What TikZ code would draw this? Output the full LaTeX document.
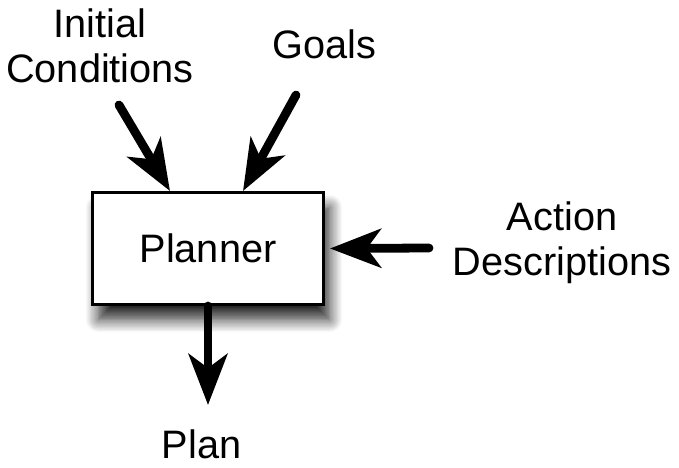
\documentclass[tikz,border=0pt]{standalone}
\usepackage{fontspec}
\setmainfont{Liberation Sans}
\usetikzlibrary{arrows.meta,shadows.blur}

\begin{document}
\begin{tikzpicture}[x=0.02cm, y=-0.02cm,
    every node/.style={font=\fontsize{22.6pt}{25.5pt}\selectfont},
    label/.style={align=center, anchor=base, inner sep=0pt},
    flow/.style={line width=5pt, line cap=round, -{Stealth[length=29pt, width=22pt, inset=8pt]}}]
    \useasboundingbox (0,0) rectangle (679,467);

    \node[draw, line width=1.7pt, fill=white, minimum width=4.62cm, minimum height=2.24cm,
          blur shadow={shadow xshift=0.12cm, shadow yshift=-0.3cm, shadow blur radius=0.26cm, shadow blur steps=10, shadow opacity=85}]
          (planner) at (208,248.5) {Planner};

    \node[label] (init) at (100,82) {Initial\\Conditions};
    \node[label] (goals) at (324,58) {Goals};
    \node[label] (action) at (562,275) {Action\\Descriptions};
    \node[label] (plan) at (201.5,458) {Plan};

    \coordinate (init end) at (119,105);
    \coordinate (goals end) at (296,95);
    \coordinate (action end) at (429,248);
    \coordinate (plan end) at (208,405);

    \draw[flow] (init end) -- (planner.north west -| 170,0);
    \draw[flow] (goals end) -- (planner.north west -| 243,0);
    \draw[flow] (action end) -- ([xshift=0.1cm]planner.east);
    \draw[flow] (planner.south) -- (plan end);
\end{tikzpicture}
\end{document}
